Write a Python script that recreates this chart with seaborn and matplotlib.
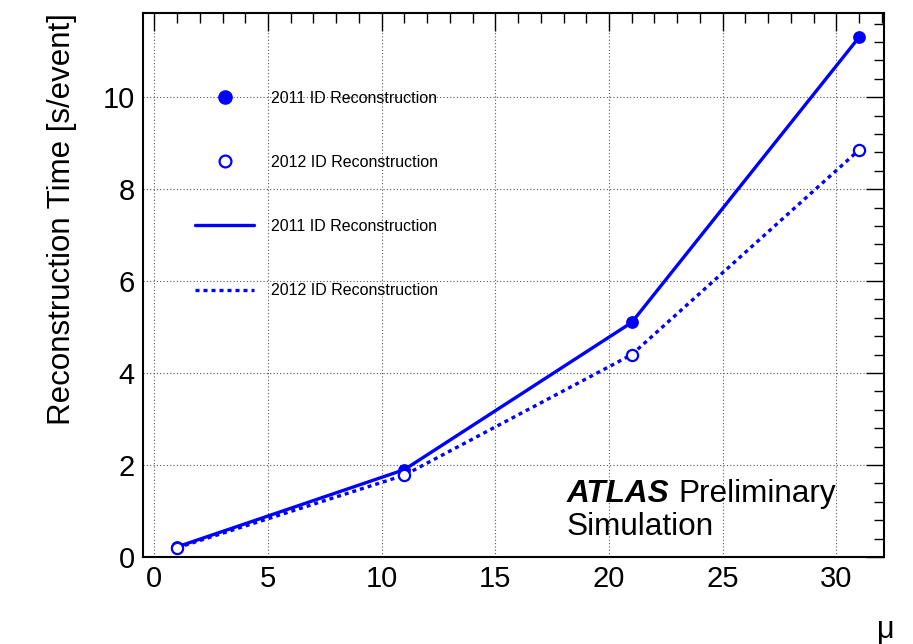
import matplotlib
matplotlib.use("Agg")
import matplotlib.pyplot as plt
import seaborn as sns
import pandas as pd
from matplotlib.ticker import MultipleLocator
from matplotlib.lines import Line2D

mu = [1, 11, 21, 31]
time_2011 = [0.22, 1.90, 5.10, 11.30]
time_2012 = [0.20, 1.78, 4.40, 8.85]
label_2011 = "2011 ID Reconstruction"
label_2012 = "2012 ID Reconstruction"
x_ticks = [0, 5, 10, 15, 20, 25, 30]
y_ticks = [0, 2, 4, 6, 8, 10]

sns.set_theme(style="white")
plt.rcParams['font.family'] = ['Liberation Sans', 'DejaVu Sans']
plt.rcParams['text.color'] = 'black'
plt.rcParams['axes.labelcolor'] = 'black'
plt.rcParams['xtick.color'] = 'black'
plt.rcParams['ytick.color'] = 'black'

df = pd.DataFrame({"mu": mu, "t2011": time_2011, "t2012": time_2012})

fig = plt.figure(figsize=(9.13, 6.44), dpi=100)
ax = fig.add_axes([143/913, 1 - 557/644, (884-143)/913, (557-13)/644])

blue = (0, 0, 1)
sns.lineplot(data=df, x="mu", y="t2011", ax=ax, color=blue, linewidth=2.4,
             label="_l2011", zorder=3)
sns.lineplot(data=df, x="mu", y="t2012", ax=ax, color=blue, linewidth=2.4,
             linestyle=(0, (1.2, 1.2)), label="_l2012", zorder=3)
sns.scatterplot(data=df, x="mu", y="t2011", ax=ax, color=blue, s=85,
                marker="o", edgecolor=blue, linewidth=0, zorder=4, label="_s2011")
sns.scatterplot(data=df, x="mu", y="t2012", ax=ax, s=65, marker="o",
                facecolor="white", edgecolor=blue, linewidth=1.6, zorder=4, label="_s2012")

ax.set_xlim(-0.5, 32.1)
ax.set_ylim(0, 11.83)
ax.set_xticks(x_ticks)
ax.set_yticks(y_ticks)
ax.xaxis.set_minor_locator(MultipleLocator(1))
ax.yaxis.set_minor_locator(MultipleLocator(0.4))
ax.tick_params(which="both", direction="in", top=True, right=True,
               labelsize=21, colors="black", width=1.0)
ax.tick_params(which="major", length=13, pad=6)
ax.tick_params(which="minor", length=7)
ax.grid(True, which="major", linestyle=(0, (1, 2)), color="#555555", linewidth=0.8)
for s in ax.spines.values():
    s.set_color("black")
    s.set_linewidth(1.5)

ax.set_xlabel("")
ax.set_ylabel("Reconstruction Time [s/event]", fontsize=22.5, labelpad=18,
              color="black", loc="top")
fig.text(895/913, 1 - 630/644, "μ", fontsize=22, ha="right", va="center")

handles = [
    Line2D([], [], color=blue, marker="o", linestyle="none", markersize=9.5),
    Line2D([], [], color=blue, marker="o", linestyle="none", markersize=8.5,
           markerfacecolor="white", markeredgewidth=1.6),
    Line2D([], [], color=blue, linewidth=2.4),
    Line2D([], [], color=blue, linewidth=2.4, linestyle=(0, (1.2, 1.2))),
]
labels = [label_2011, label_2012, label_2011, label_2012]
leg = ax.legend(handles, labels, loc="upper left", frameon=False,
                bbox_to_anchor=(195/913, 1 - 91/644), bbox_transform=fig.transFigure,
                fontsize=11.5, handlelength=3.7, handletextpad=1.05,
                labelspacing=3.07, borderpad=0, borderaxespad=0)
for t in leg.get_texts():
    t.set_color("black")

t1 = fig.text(567/913, 1 - 494/644, "ATLAS", fontsize=22.7, ha="left", va="center",
              fontweight="bold", fontstyle="italic", color="black")
fig.canvas.draw()
bb = t1.get_window_extent()
fig.text((bb.x1 + 9) / 913, 1 - 494/644, "Preliminary", fontsize=22.7, ha="left",
         va="center", color="black")
fig.text(567/913, 1 - 527/644, "Simulation", fontsize=22.7, ha="left", va="center",
         color="black")

fig.savefig("out.png", dpi=100)
